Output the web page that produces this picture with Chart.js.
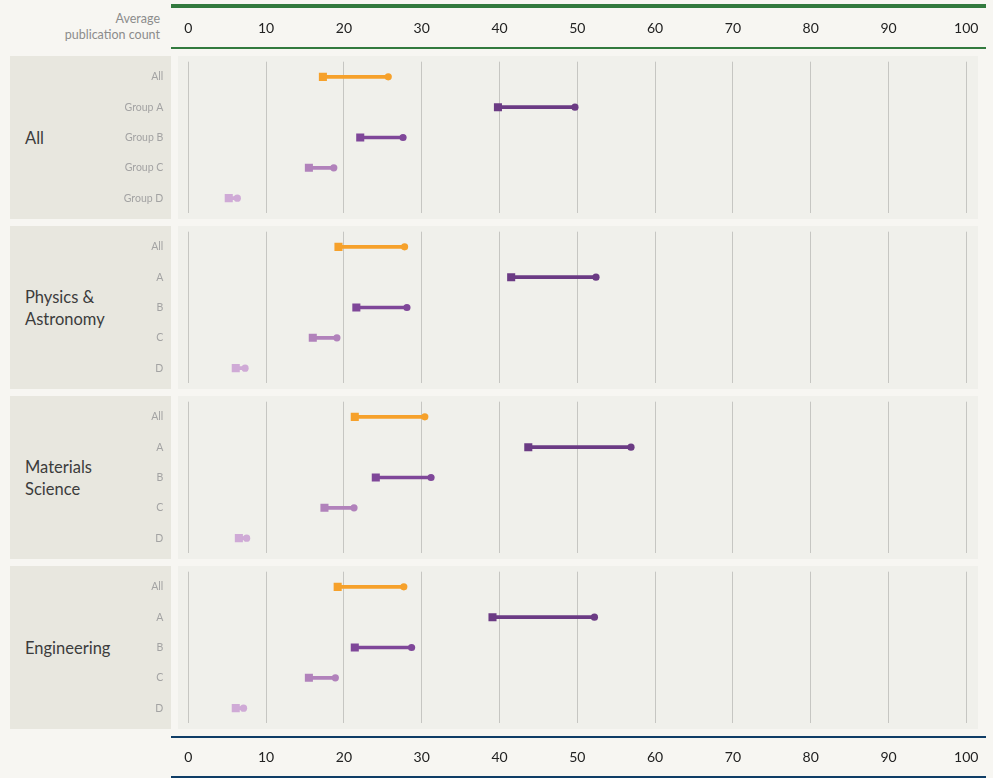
<!DOCTYPE html>
<html>
<head>
<meta charset="utf-8">
<script src="https://cdn.jsdelivr.net/npm/chart.js@4.4.1/dist/chart.umd.min.js"></script>
<style>
  html, body { margin: 0; padding: 0; }
  body { width: 993px; height: 778px; background: #f7f6f2; position: relative; overflow: hidden; font-family: Lato, sans-serif; }
  .abs { position: absolute; }
  .axisband-top { left: 171px; top: 4px; width: 815px; height: 39px; border-top: 4px solid #327a3e; border-bottom: 2px solid #327a3e; }
  .axisband-bottom { left: 171px; top: 736px; width: 815px; height: 38px; border-top: 2px solid #0f3d66; border-bottom: 2px solid #0f3d66; }
  .axistitle { left: 0; top: 11px; width: 160px; text-align: right; color: #8c8c8c; font-size: 12.5px; line-height: 16px; }
  .labelbg { left: 10px; width: 161px; height: 163px; background: #e8e7df; }
  .plotbg { left: 178px; width: 800px; height: 163px; background: #f0f0eb; }
  .panelname { left: 25px; width: 140px; height: 163px; display: flex; align-items: center; color: #3c3c3c; font-size: 16.5px; line-height: 22px; }
  .wrap { left: 0; width: 993px; }
</style>
</head>
<body>
<div class="abs axisband-top"></div>
<div class="abs axisband-bottom"></div>
<div class="abs axistitle">Average<br>publication count</div>
<div id="panels"></div>
<div class="abs wrap" style="top:0px;height:37px"><canvas id="axisTop"></canvas></div>
<div class="abs wrap" style="top:728px;height:38px"><canvas id="axisBottom"></canvas></div>
<script>
// ---- data ----
const xTicks = [0, 10, 20, 30, 40, 50, 60, 70, 80, 90, 100];

const panelNames = ['All', 'Physics &\nAstronomy', 'Materials\nScience', 'Engineering'];
const rowsAll = ['All', 'Group A', 'Group B', 'Group C', 'Group D'];
const rowsShort = ['All', 'A', 'B', 'C', 'D'];

// square = start value, circle = end value
const allSquare = [17.3, 39.8, 22.1, 15.5, 5.2];
const allCircle = [25.7, 49.7, 27.6, 18.7, 6.3];
const physSquare = [19.3, 41.5, 21.6, 16.0, 6.1];
const physCircle = [27.8, 52.4, 28.1, 19.1, 7.3];
const matSquare = [21.4, 43.7, 24.1, 17.5, 6.5];
const matCircle = [30.4, 56.9, 31.2, 21.3, 7.5];
const engSquare = [19.2, 39.1, 21.4, 15.5, 6.1];
const engCircle = [27.7, 52.2, 28.7, 18.9, 7.1];

const rowColors = ['#f6a12b', '#6b3b84', '#7f4799', '#b182bb', '#cfaad6'];

const panels = [
  {name: panelNames[0], rows: rowsAll, sq: allSquare, ci: allCircle},
  {name: panelNames[1], rows: rowsShort, sq: physSquare, ci: physCircle},
  {name: panelNames[2], rows: rowsShort, sq: matSquare, ci: matCircle},
  {name: panelNames[3], rows: rowsShort, sq: engSquare, ci: engCircle}
];

Chart.defaults.font.family = 'Lato, sans-serif';
Chart.defaults.animation = false;
Chart.defaults.plugins.legend.display = false;
Chart.defaults.plugins.tooltip.enabled = false;

const PLOT_LEFT = 188.3;
const PLOT_RIGHT_PAD = 26.7;

function setTicks(scale) {
  scale.ticks = xTicks.map(v => ({value: v}));
}

const holder = document.getElementById('panels');
panels.forEach((p, i) => {
  const top = 56 + i * 170;
  holder.insertAdjacentHTML('beforeend',
    `<div class="abs labelbg" style="top:${top}px"></div>` +
    `<div class="abs plotbg" style="top:${top}px"></div>` +
    `<div class="abs panelname" style="top:${top}px"><div>${p.name.replace('\n', '<br>')}</div></div>` +
    `<div class="abs wrap" style="top:${top}px;height:163px"><canvas id="panel${i}"></canvas></div>`);
});

function axisChart(id) {
  new Chart(document.getElementById(id), {
    type: 'scatter',
    data: {datasets: []},
    options: {
      responsive: true,
      maintainAspectRatio: false,
      layout: {padding: {left: PLOT_LEFT, right: PLOT_RIGHT_PAD, top: 0, bottom: 0}},
      scales: {
        x: {
          type: 'linear', min: 0, max: 100,
          afterBuildTicks: setTicks,
          grid: {display: false, drawTicks: false},
          border: {display: false},
          ticks: {color: '#222', font: {size: 14}, padding: 0, maxRotation: 0}
        },
        y: {display: false}
      }
    }
  });
}
axisChart('axisTop');
axisChart('axisBottom');

panels.forEach((p, i) => {
  new Chart(document.getElementById('panel' + i), {
    type: 'bar',
    data: {
      labels: p.rows,
      datasets: [
        {
          type: 'line',
          data: p.ci.map((v, k) => ({x: v, y: p.rows[k]})),
          showLine: false,
          pointStyle: 'circle',
          pointRadius: 3.6,
          pointBorderWidth: 0,
          pointBackgroundColor: rowColors,
          order: 1
        },
        {
          type: 'line',
          data: p.sq.map((v, k) => ({x: v, y: p.rows[k]})),
          showLine: false,
          pointStyle: 'rect',
          pointRadius: 5.7,
          pointBorderWidth: 0,
          pointBackgroundColor: rowColors,
          order: 2
        },
        {
          data: p.sq.map((v, k) => [v, p.ci[k]]),
          backgroundColor: rowColors,
          barThickness: 3,
          borderWidth: 0,
          order: 3
        }
      ]
    },
    options: {
      indexAxis: 'y',
      responsive: true,
      maintainAspectRatio: false,
      layout: {padding: {left: 0, right: PLOT_RIGHT_PAD, top: 3.3, bottom: 2.3}},
      scales: {
        x: {
          type: 'linear', min: 0, max: 100,
          afterBuildTicks: setTicks,
          afterFit: s => { s.height = 0; },
          grid: {color: '#c6c6c2', lineWidth: 1, drawTicks: false},
          border: {display: false},
          ticks: {display: false}
        },
        y: {
          type: 'category',
          offset: true,
          afterFit: s => {
            s.width = PLOT_LEFT;
            // tick padding would otherwise also pad top/bottom
            s.paddingTop = 0;
            s.paddingBottom = 0;
          },
          grid: {display: false, drawTicks: false},
          border: {display: false},
          ticks: {color: '#a3a3a3', font: {size: 10.5}, padding: 25}
        }
      }
    }
  });
});
</script>
</body>
</html>
